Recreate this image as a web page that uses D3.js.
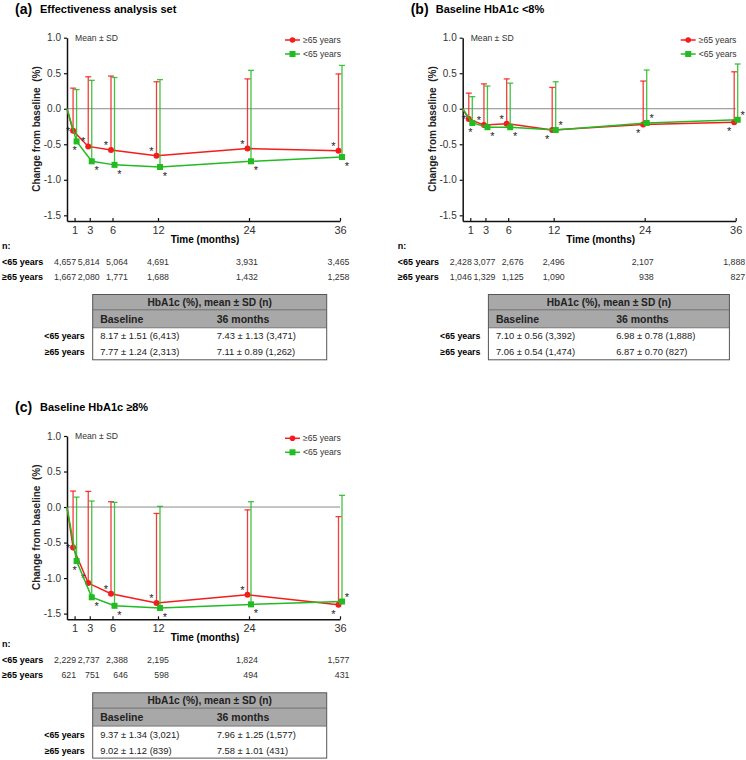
<!DOCTYPE html>
<html>
<head>
<meta charset="utf-8">
<script src="https://cdn.jsdelivr.net/npm/d3@7"></script>
<style>
  body { margin: 0; background: #fff; }
  svg { font-family: "Liberation Sans", Arial, sans-serif; }
</style>
</head>
<body>
<svg id="chart" width="746" height="760"></svg>
<script>
// months on the x axis, 0 = baseline
const months = [0, 1, 3, 6, 12, 24, 36];
const tickMonths = [1, 3, 6, 12, 24, 36];
const groups = ["≥65 years", "<65 years"];

// (a) effectiveness analysis set
const aOldMean = [0, -0.31, -0.53, -0.58, -0.66, -0.56, -0.59];
const aOldUpper = [0.29, 0.45, 0.46, 0.38, 0.42, 0.49];
const aYoungMean = [0, -0.46, -0.74, -0.79, -0.82, -0.74, -0.68];
const aYoungUpper = [0.27, 0.40, 0.44, 0.41, 0.54, 0.61];
const aNYoung = [4657, 5814, 5064, 4691, 3931, 3465];
const aNOld = [1667, 2080, 1771, 1688, 1432, 1258];
const aTableYoung = ["8.17 ± 1.51 (6,413)", "7.43 ± 1.13 (3,471)"];
const aTableOld = ["7.77 ± 1.24 (2,313)", "7.11 ± 0.89 (1,262)"];
const aStarOldUp = [1, 1, 1, 1, 1, 1];

// (b) baseline HbA1c <8%
const bOldMean = [0, -0.145, -0.23, -0.21, -0.30, -0.22, -0.19];
const bOldUpper = [0.22, 0.35, 0.42, 0.30, 0.39, 0.52];
const bYoungMean = [0, -0.20, -0.26, -0.26, -0.30, -0.20, -0.155];
const bYoungUpper = [0.17, 0.32, 0.36, 0.38, 0.545, 0.63];
const bNYoung = [2428, 3077, 2676, 2496, 2107, 1888];
const bNOld = [1046, 1329, 1125, 1090, 938, 827];
const bTableYoung = ["7.10 ± 0.56 (3,392)", "6.98 ± 0.78 (1,888)"];
const bTableOld = ["7.06 ± 0.54 (1,474)", "6.87 ± 0.70 (827)"];
const bStarOldUp = [1, 1, 1, 0, 0, 0];

// (c) baseline HbA1c >=8%
const cOldMean = [0, -0.57, -1.07, -1.22, -1.35, -1.235, -1.375];
const cOldUpper = [0.225, 0.22, 0.075, -0.09, -0.04, -0.135];
const cYoungMean = [0, -0.76, -1.27, -1.39, -1.42, -1.37, -1.33];
const cYoungUpper = [0.14, 0.085, 0.066, 0.01, 0.075, 0.165];
const cNYoung = [2229, 2737, 2388, 2195, 1824, 1577];
const cNOld = [621, 751, 646, 598, 494, 431];
const cTableYoung = ["9.37 ± 1.34 (3,021)", "7.96 ± 1.25 (1,577)"];
const cTableOld = ["9.02 ± 1.12 (839)", "7.58 ± 1.01 (431)"];
const cStarOldUp = [1, 1, 1, 1, 1, 0];

const yTicks = [-1.5, -1.0, -0.5, 0.0, 0.5, 1.0];
const tableHeader = "HbA1c (%), mean ± SD (n)";
const tableCols = ["Baseline", "36 months"];

const red = "#f51c1c", green = "#22bb22";
const nShift = [1.5, 10, 15.5, 11, 9, 9.5]; // right edge of n counts vs tick

const panels = [
  {tag: "(a)", title: "Effectiveness analysis set", ox: 67, oy: 0, tw: 234,
   old: aOldMean, oldUp: aOldUpper, young: aYoungMean, youngUp: aYoungUpper,
   nY: aNYoung, nO: aNOld, tY: aTableYoung, tO: aTableOld, star: aStarOldUp},
  {tag: "(b)", title: "Baseline HbA1c <8%", ox: 462.7, oy: 0, tw: 241,
   old: bOldMean, oldUp: bOldUpper, young: bYoungMean, youngUp: bYoungUpper,
   nY: bNYoung, nO: bNOld, tY: bTableYoung, tO: bTableOld, star: bStarOldUp},
  {tag: "(c)", title: "Baseline HbA1c ≥8%", ox: 67, oy: 398.3, tw: 234,
   old: cOldMean, oldUp: cOldUpper, young: cYoungMean, youngUp: cYoungUpper,
   nY: cNYoung, nO: cNOld, tY: cTableYoung, tO: cTableOld, star: cStarOldUp}
];

let svg = d3.select("#chart");
let fmtN = d3.format(",");

panels.forEach(function (p) {
  let g = svg.append("g");
  let x = d3.scaleLinear().domain([0, 36]).range([p.ox, p.ox + 273]);
  let y = d3.scaleLinear().domain([-1.58, 1]).range([p.oy + 221, p.oy + 37.7]);

  // title
  g.append("text").attr("x", p.ox - 52).attr("y", p.oy + 13.5)
    .attr("font-size", 14).attr("font-weight", "bold").text(p.tag);
  g.append("text").attr("x", p.ox - 27).attr("y", p.oy + 12.5)
    .attr("font-size", 11).attr("font-weight", "bold").text(p.title);

  // zero line
  g.append("line").attr("x1", x(0)).attr("x2", x(36))
    .attr("y1", y(0)).attr("y2", y(0))
    .attr("stroke", "#8a8a8a").attr("stroke-width", 1);

  // axes
  let yAxis = g.append("g").attr("transform", `translate(${p.ox},0)`)
    .call(d3.axisLeft(y).tickValues(yTicks).tickSize(3).tickSizeOuter(0)
      .tickFormat(d => d3.format(".1f")(d).replace("−", "-")));
  let xAxis = g.append("g").attr("transform", `translate(0,${y.range()[0]})`)
    .call(d3.axisBottom(x).tickValues(tickMonths).tickSize(-3).tickSizeOuter(0).tickPadding(5));
  [yAxis, xAxis].forEach(function (a) {
    a.select(".domain").attr("stroke", "#111").attr("stroke-width", 1.5);
    a.selectAll(".tick line").attr("stroke", "#111").attr("stroke-width", 1.2);
    a.selectAll(".tick text").attr("fill", "#333")
      .attr("font-family", "Liberation Sans, Arial, sans-serif");
  });
  yAxis.selectAll(".tick text").attr("font-size", 10);
  xAxis.selectAll(".tick text").attr("font-size", 11);

  g.append("text").attr("x", p.ox + 138).attr("y", p.oy + 243)
    .attr("text-anchor", "middle").attr("font-size", 10).attr("font-weight", "bold")
    .text("Time (months)");
  g.append("text")
    .attr("transform", `translate(${p.ox - 27},${p.oy + 129}) rotate(-90)`)
    .attr("text-anchor", "middle").attr("font-size", 10).attr("font-weight", "bold")
    .attr("fill", "#222").attr("xml:space", "preserve")
    .text("Change from baseline  (%)");

  g.append("text").attr("x", p.ox + 8).attr("y", p.oy + 41)
    .attr("font-size", 8.6).attr("fill", "#333").text("Mean ± SD");

  // series
  let series = [
    {mean: p.old, up: p.oldUp, color: red, dx: -1.5, shape: "circle", starUp: p.star},
    {mean: p.young, up: p.youngUp, color: green, dx: 2, shape: "square", starUp: p.star.map(s => 1 - s)}
  ];
  series.forEach(function (s) {
    let pts = months.map((m, i) => ({m: m, v: s.mean[i], i: i}));
    let px = d => (d.m === 0 ? x(0) : x(d.m) + s.dx);

    // error bars (upper SD only)
    let bars = pts.slice(1);
    g.selectAll(null).data(bars).enter().append("line")
      .attr("x1", px).attr("x2", px)
      .attr("y1", d => y(d.v)).attr("y2", d => y(s.up[d.i - 1]))
      .attr("stroke", s.color).attr("stroke-width", 1.3).attr("opacity", 0.85);
    g.selectAll(null).data(bars).enter().append("line")
      .attr("x1", d => px(d) - 3).attr("x2", d => px(d) + 3)
      .attr("y1", d => y(s.up[d.i - 1])).attr("y2", d => y(s.up[d.i - 1]))
      .attr("stroke", s.color).attr("stroke-width", 1.3).attr("opacity", 0.85);

    g.append("path").datum(pts)
      .attr("d", d3.line().x(px).y(d => y(d.v)))
      .attr("fill", "none").attr("stroke", s.color).attr("stroke-width", 1.5);

    if (s.shape === "circle") {
      g.selectAll(null).data(bars).enter().append("circle")
        .attr("cx", px).attr("cy", d => y(d.v)).attr("r", 3).attr("fill", s.color);
    } else {
      g.selectAll(null).data(bars).enter().append("rect")
        .attr("x", d => px(d) - 3).attr("y", d => y(d.v) - 3)
        .attr("width", 6).attr("height", 6).attr("fill", s.color);
    }

    // significance asterisks (month 1 sits tight against the axis)
    let isRed = s.shape === "circle";
    g.selectAll(null).data(bars).enter().append("text")
      .attr("x", d => px(d) + (d.m === 1 ? (isRed ? -5 : -2) : (isRed ? -5 : 5)))
      .attr("y", function (d) {
        let off = s.starUp[d.i - 1] ? -7 : 7;
        if (d.m === 1) off = isRed ? -2 : 7;
        return y(d.v) + off + 6;
      })
      .attr("text-anchor", "middle").attr("font-size", 11).attr("fill", "#222")
      .text("*");
  });

  // legend
  let lx = p.ox + 218;
  [[red, "circle"], [green, "square"]].forEach(function (l, i) {
    let ly = p.oy + 40 + i * 14;
    g.append("line").attr("x1", lx).attr("x2", lx + 15).attr("y1", ly).attr("y2", ly)
      .attr("stroke", l[0]).attr("stroke-width", 1.5);
    if (l[1] === "circle") {
      g.append("circle").attr("cx", lx + 7.5).attr("cy", ly).attr("r", 2.8).attr("fill", l[0]);
    } else {
      g.append("rect").attr("x", lx + 4.5).attr("y", ly - 3).attr("width", 6).attr("height", 6).attr("fill", l[0]);
    }
    g.append("text").attr("x", lx + 18).attr("y", ly + 3).attr("font-size", 8.6)
      .attr("fill", "#333").text(groups[i]);
  });

  // n at risk
  let labX = p.ox - 65;
  g.append("text").attr("x", labX).attr("y", p.oy + 249)
    .attr("font-size", 9).attr("font-weight", "bold").text("n:");
  [[groups[1], p.nY, 265], [groups[0], p.nO, 280]].forEach(function (r) {
    g.append("text").attr("x", labX).attr("y", p.oy + r[2])
      .attr("font-size", 9).attr("font-weight", "bold").text(r[0]);
    g.selectAll(null).data(r[1]).enter().append("text")
      .attr("x", (d, i) => x(tickMonths[i]) + nShift[i]).attr("y", p.oy + r[2])
      .attr("text-anchor", "end").attr("font-size", 8.8).attr("fill", "#333")
      .text(d => fmtN(d));
  });

  // HbA1c table
  let tx = p.ox + 25.7, ty = p.oy + 294.5;
  let rows = [15.3, 18, 16, 16];
  let rowY = [ty];
  rows.forEach(h => rowY.push(rowY[rowY.length - 1] + h));
  g.append("rect").attr("x", tx).attr("y", rowY[0]).attr("width", p.tw).attr("height", rows[0] + rows[1])
    .attr("fill", "#a8a8a8");
  g.append("rect").attr("x", tx).attr("y", rowY[0]).attr("width", p.tw).attr("height", rowY[4] - rowY[0])
    .attr("fill", "none").attr("stroke", "#555").attr("stroke-width", 1);
  [1, 2].forEach(k => g.append("line").attr("x1", tx).attr("x2", tx + p.tw)
    .attr("y1", rowY[k]).attr("y2", rowY[k]).attr("stroke", "#666").attr("stroke-width", 0.8));
  g.append("text").attr("x", tx + p.tw / 2).attr("y", rowY[0] + 11)
    .attr("text-anchor", "middle").attr("font-size", 10.2).attr("font-weight", "bold")
    .attr("fill", "#222").text(tableHeader);
  let colX = [tx + 7.5, tx + p.tw * 0.53];
  tableCols.forEach((c, i) => g.append("text").attr("x", colX[i]).attr("y", rowY[1] + 13)
    .attr("font-size", 10.5).attr("font-weight", "bold").attr("fill", "#222").text(c));
  [[groups[1], p.tY], [groups[0], p.tO]].forEach(function (r, k) {
    let by = rowY[2 + k] + 11.5;
    g.append("text").attr("x", tx - 8).attr("y", by).attr("text-anchor", "end")
      .attr("font-size", 8.8).attr("font-weight", "bold").text(r[0]);
    r[1].forEach((t, i) => g.append("text").attr("x", colX[i]).attr("y", by)
      .attr("font-size", 9.4).attr("fill", "#222").text(t));
  });
});
</script>
</body>
</html>
